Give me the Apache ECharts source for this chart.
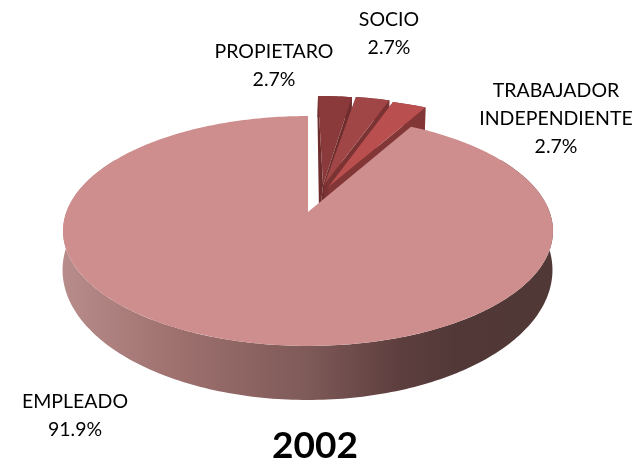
<!DOCTYPE html>
<html><head><meta charset="utf-8">
<style>html,body{margin:0;padding:0;background:#fff}#c{width:635px;height:460px}</style>
<script src="https://cdn.jsdelivr.net/npm/echarts@6/dist/echarts.min.js"></script>
</head><body><div id="c"></div>
<script>
var categories = ['PROPIETARO', 'SOCIO', 'TRABAJADOR\nINDEPENDIENTE', 'EMPLEADO'];
var values = [1, 1, 1, 34];
var chartTitle = '2002';

var topColors = ['#8a3a3a', '#a04646', '#b94f4f', '#cf8e8e'];
var wallColors = ['#6e2c2c', '#7a3232', '#823636', '#000'];
var explode = [[0.05, 0.252], [0.07, 0.253], [0.087, 0.232], [0, 0]];
var apexShift = [0.015, 0, 0, 0];
var labelPos = [[274, 66], [389, 34], [556, 119], [75, 416]];

var total = values.reduce(function (a, b) { return a + b; }, 0);
var K = 0.1652;
var upper = { cx: 308, cy: 212, a: -76.8, X: 241.6 };
var lower = { cx: 307.5, cy: 248.5, a: -85.4, X: 241.6 };
function project(pl, u, v) {
  var d = 1 + K * v;
  return [pl.cx + pl.X * u / d, (pl.a * v + pl.cy) / d];
}
function rim(pl, deg, off) {
  var t = deg * Math.PI / 180;
  return project(pl, Math.sin(t) + off[0], Math.cos(t) + off[1]);
}
function arc(pl, from, to, off) {
  var pts = [], n = Math.max(2, Math.ceil(Math.abs(to - from)));
  for (var i = 0; i <= n; i++) pts.push(rim(pl, from + (to - from) * i / n, off));
  return pts;
}
function poly(points, fill) {
  return { type: 'polygon', shape: { points: points }, style: { fill: fill }, silent: true };
}
function startAngle(idx) {
  var s = 0;
  for (var i = 0; i < idx; i++) s += values[i];
  return s / total * 360;
}

function renderItem(params, api) {
  var i = params.dataIndex;
  var a0 = startAngle(i), a1 = a0 + api.value(0) / total * 360;
  var off = explode[i], kids = [];
  if (i < 3) {
    var apexT = project(upper, off[0] + apexShift[i], off[1]), apexB = project(lower, off[0], off[1]);
    var topArc = arc(upper, a0, a1, off), botArc = arc(lower, a0, a1, off);
    kids.push(poly([apexT, topArc[0], botArc[0], apexB], wallColors[i]));
    kids.push(poly([apexT, topArc[topArc.length - 1], botArc[botArc.length - 1], apexB], wallColors[i]));
    kids.push(poly(topArc.concat(botArc.slice().reverse()), wallColors[i]));
    kids.push(poly([apexT].concat(topArc), topColors[i]));
  } else {
    var wallTop = arc(upper, 60, 300, off), wallBot = arc(lower, 60, 300, off);
    kids.push(poly(wallTop.concat(wallBot.reverse()), new echarts.graphic.LinearGradient(62, 0, 552, 0, [
      { offset: 0, color: '#b88c8a' }, { offset: 0.25, color: '#9c6f6d' },
      { offset: 0.5, color: '#7e5a58' }, { offset: 0.68, color: '#5f3f3f' },
      { offset: 0.8, color: '#523938' }, { offset: 1, color: '#503837' }
    ], true)));
    kids.push(poly([project(upper, 0, 0)].concat(arc(upper, a0, a1, off)), topColors[i]));
  }
  kids.push({
    type: 'text', silent: true, z2: 10,
    style: {
      x: labelPos[i][0], y: labelPos[i][1],
      text: categories[i] + '\n' + (api.value(0) / total * 100).toFixed(1) + '%',
      font: '19.5px Lato', lineHeight: 28, fill: '#000', align: 'center', verticalAlign: 'middle'
    }
  });
  return { type: 'group', children: kids };
}

var chart = echarts.init(document.getElementById('c'), null, { renderer: 'canvas' });
chart.setOption({
  animation: false,
  backgroundColor: '#fff',
  title: { text: chartTitle, left: 310, top: 423, textAlign: 'center',
    textStyle: { fontFamily: 'Lato', fontWeight: 'bold', fontSize: 37, color: '#000' } },
  series: [{ type: 'custom', coordinateSystem: 'none', renderItem: renderItem, silent: true,
    data: values.map(function (v, i) { return { name: categories[i], value: [v] }; }) }]
});
</script></body></html>
